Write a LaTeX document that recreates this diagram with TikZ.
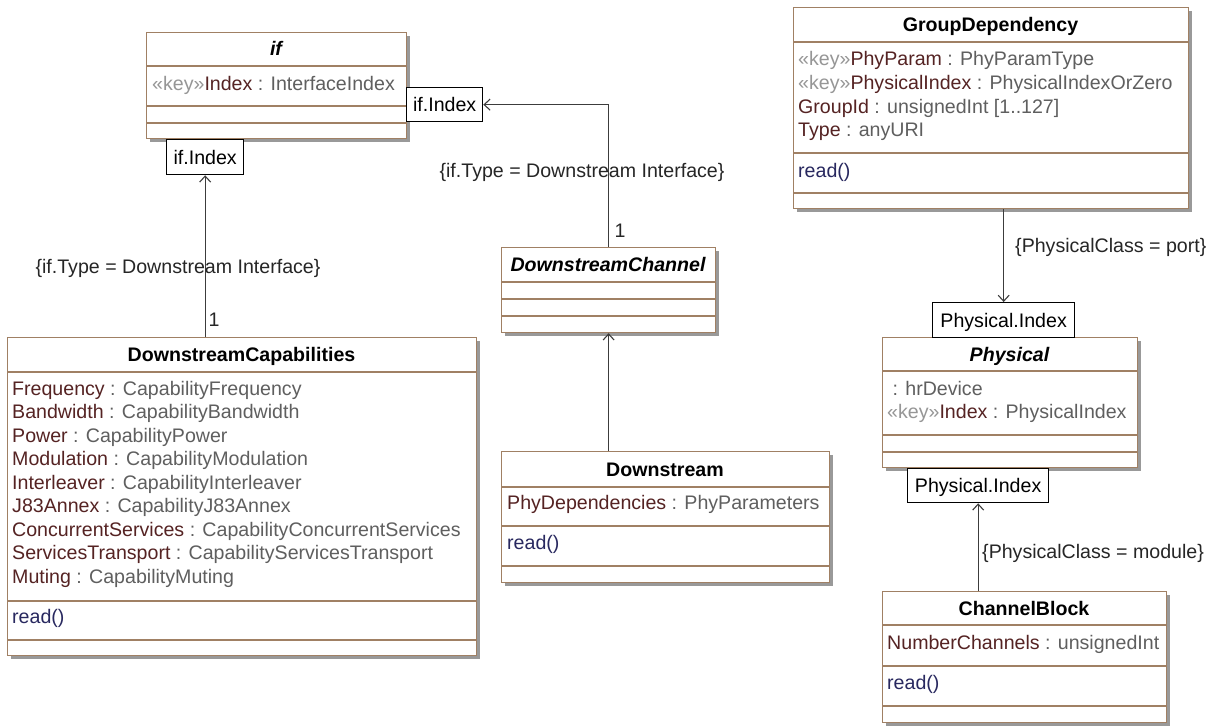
\documentclass[tikz,border=0pt]{standalone}
\usepackage{fontspec}
\setmainfont{Liberation Sans}
\usetikzlibrary{shadows,arrows.meta}
\definecolor{brd}{RGB}{160,128,100}
\definecolor{namec}{RGB}{85,35,35}
\definecolor{typec}{RGB}{95,95,95}
\definecolor{keyc}{RGB}{150,150,150}
\definecolor{opc}{RGB}{40,40,95}
\definecolor{linec}{RGB}{60,60,60}
\newcommand{\attrtxt}[2]{\textcolor{namec}{#1} : #2}
\newcommand{\keytxt}{\textcolor{keyc}{«key»}}
\tikzset{
 basefont/.style={font=\fontsize{19.6}{24}\selectfont, text height=14pt, text depth=0pt},
 cls/.style={draw=brd, line width=1.2pt, fill=white, anchor=north west, inner sep=0pt,
   drop shadow={shadow xshift=3pt, shadow yshift=-3pt, fill=black!40, opacity=1}},
 sepl/.style={draw=brd, line width=1.2pt},
 title/.style={basefont, font=\fontsize{19.6}{24}\selectfont\bfseries, text=black, inner sep=0pt},
 titlei/.style={title, font=\fontsize{19.6}{24}\selectfont\bfseries\itshape},
 attr/.style={basefont, text=typec, anchor=west, inner sep=0pt},
 op/.style={attr, text=opc},
 qual/.style={basefont, draw=black, line width=1.3pt, fill=white, inner sep=0pt, text=black, anchor=north west},
 conn/.style={draw=linec, line width=1.1pt},
 arr/.style={conn, -{Straight Barb[length=6pt,width=11pt]}},
 lbl/.style={basefont, text=black!85, inner sep=0pt},
}
\begin{document}
\begin{tikzpicture}[x=1pt,y=-1pt]
\fill[white] (0,0) rectangle (1225,725);
\useasboundingbox (0,0) rectangle (1225,725);

% ---- if
\node[cls, minimum width=260pt, minimum height=106pt] (if) at (146,32) {};
\draw[sepl] (146,66) -- (406,66) (146,106) -- (406,106) (146,123) -- (406,123);
\node[titlei] (ift) at (276,49) {if};
\node[attr] (ifa1) at (152,83) {\keytxt\attrtxt{Index}{InterfaceIndex}};
\node[qual, minimum width=76pt, minimum height=34pt] (ifqR) at (406,87) {if.Index};
\node[qual, minimum width=77pt, minimum height=35pt] (ifqB) at (166,139) {if.Index};

% ---- DownstreamCapabilities
\node[cls, minimum width=469pt, minimum height=318pt] (dcap) at (7,337) {};
\draw[sepl] (7,372) -- (476,372) (7,601) -- (476,601) (7,640) -- (476,640);
\node[title] (dcapt) at (241.5,354.5) {DownstreamCapabilities};
\foreach \n/\t [count=\i] in {Frequency/CapabilityFrequency,Bandwidth/CapabilityBandwidth,Power/CapabilityPower,Modulation/CapabilityModulation,Interleaver/CapabilityInterleaver,J83Annex/CapabilityJ83Annex,ConcurrentServices/CapabilityConcurrentServices,ServicesTransport/CapabilityServicesTransport,Muting/CapabilityMuting}
  \node[attr] (dca\i) at (12,{388+23.5*(\i-1)}) {\attrtxt{\n}{\t}};
\node[op] (dcop) at (12,616) {read()};

% ---- DownstreamChannel
\node[cls, minimum width=214pt, minimum height=85pt] (dch) at (501,247) {};
\draw[sepl] (501,282) -- (715,282) (501,299) -- (715,299) (501,316) -- (715,316);
\node[titlei] (dcht) at (608,264.5) {DownstreamChannel};

% ---- Downstream
\node[cls, minimum width=328pt, minimum height=131pt] (ds) at (501,451) {};
\draw[sepl] (501,487) -- (829,487) (501,526) -- (829,526) (501,566) -- (829,566);
\node[title] (dst) at (665,469) {Downstream};
\node[attr] (dsa1) at (507,502) {\attrtxt{PhyDependencies}{PhyParameters}};
\node[op] (dsop) at (507,542) {read()};

% ---- GroupDependency
\node[cls, minimum width=395pt, minimum height=201pt] (gd) at (793,7) {};
\draw[sepl] (793,42) -- (1188,42) (793,153) -- (1188,153) (793,193) -- (1188,193);
\node[title] (gdt) at (990.5,24.5) {GroupDependency};
\node[attr] (gda1) at (798,59) {\keytxt\attrtxt{PhyParam}{PhyParamType}};
\node[attr] (gda2) at (798,82.5) {\keytxt\attrtxt{PhysicalIndex}{PhysicalIndexOrZero}};
\node[attr] (gda3) at (798,106) {\attrtxt{GroupId}{unsignedInt [1..127]}};
\node[attr] (gda4) at (798,129.5) {\attrtxt{Type}{anyURI}};
\node[op] (gdop) at (798,170) {read()};

% ---- Physical
\node[cls, minimum width=255pt, minimum height=130pt] (ph) at (882,337) {};
\draw[sepl] (882,371) -- (1137,371) (882,435) -- (1137,435) (882,452) -- (1137,452);
\node[titlei] (pht) at (1009.5,354) {Physical};
\node[attr] (pha1) at (887,388) {\ : hrDevice};
\node[attr] (pha2) at (887,411) {\keytxt\attrtxt{Index}{PhysicalIndex}};
\node[qual, minimum width=142pt, minimum height=35pt] (phqT) at (932,302) {Physical.Index};
\node[qual, minimum width=141pt, minimum height=34pt] (phqB) at (907,468) {Physical.Index};

% ---- ChannelBlock
\node[cls, minimum width=284pt, minimum height=131pt] (cb) at (882,591) {};
\draw[sepl] (882,625) -- (1166,625) (882,666) -- (1166,666) (882,706) -- (1166,706);
\node[title] (cbt) at (1024,608) {ChannelBlock};
\node[attr] (cba1) at (887,642) {\attrtxt{NumberChannels}{unsignedInt}};
\node[op] (cbop) at (887,682) {read()};

% ---- connectors
\draw[arr] (dcap.north -| ifqB.south) -- (ifqB.south);
\node[lbl] (l1) at (178,266) {\{if.Type = Downstream Interface\}};
\node[lbl] (m1) at (214,319) {1};

\draw[arr] (dch.north) |- (ifqR.east);
\node[lbl] (l2) at (582,170) {\{if.Type = Downstream Interface\}};
\node[lbl] (m2) at (620,230) {1};

\draw[arr] (ds.north -| dch.south) -- (dch.south);

\draw[arr] (gd.south -| phqT.north) -- (phqT.north);
\node[lbl, anchor=west] (l3) at (1015,245) {\{PhysicalClass = port\}};

\draw[arr] (cb.north -| phqB.south) -- (phqB.south);
\node[lbl, anchor=west] (l4) at (982,551) {\{PhysicalClass = module\}};
\end{tikzpicture}
\end{document}
